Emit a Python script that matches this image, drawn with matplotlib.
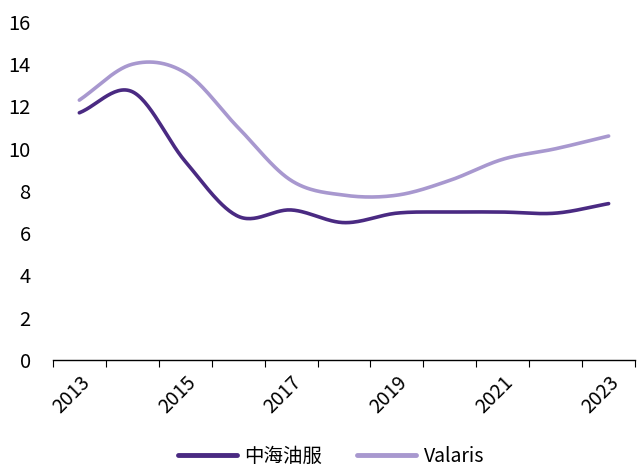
import numpy as np
import matplotlib
matplotlib.use("Agg")
import matplotlib.pyplot as plt

plt.rcParams['font.family'] = ['Noto Sans CJK SC', 'DejaVu Sans']

years = [2013, 2014, 2015, 2016, 2017, 2018, 2019, 2020, 2021, 2022, 2023]
cosl = [11.7, 12.7, 9.4, 6.8, 7.1, 6.5, 6.95, 7.0, 7.0, 6.95, 7.4]
valaris = [12.3, 14.0, 13.6, 11.0, 8.5, 7.8, 7.8, 8.5, 9.5, 10.0, 10.6]
series_names = ['中海油服', 'Valaris']
colors = ['#4a2a82', '#a898cf']


def smooth(y, n=30):
    # catmull-rom curve through the points, like excel's smoothed line
    y = np.asarray(y, float)
    p = np.concatenate([[2 * y[0] - y[1]], y, [2 * y[-1] - y[-2]]])
    xs, ys = [], []
    for i in range(len(y) - 1):
        t = np.linspace(0, 1, n, endpoint=False)
        p0, p1, p2, p3 = p[i], p[i + 1], p[i + 2], p[i + 3]
        yy = 0.5 * (2 * p1 + (-p0 + p2) * t + (2 * p0 - 5 * p1 + 4 * p2 - p3) * t**2
                    + (-p0 + 3 * p1 - 3 * p2 + p3) * t**3)
        xs.append(i + t)
        ys.append(yy)
    xs.append([len(y) - 1])
    ys.append([y[-1]])
    return np.concatenate(xs), np.concatenate(ys)


fig = plt.figure(figsize=(6.37, 4.68), dpi=100)
ax = fig.add_axes([0.083, 0.231, 0.914, 0.722])

for vals, name, c in zip([cosl, valaris], series_names, colors):
    sx, sy = smooth(vals)
    ax.plot(sx, sy, color=c, lw=2.6, label=name, solid_capstyle='round')

ax.set_xlim(-0.5, len(years) - 0.5)
ax.set_ylim(0, 16)
ax.set_yticks(np.arange(0, 17, 2))
ax.tick_params(axis='y', length=0, labelsize=14.5, pad=16)
for s in ['top', 'right', 'left']:
    ax.spines[s].set_visible(False)
ax.spines['bottom'].set_color('black')
ax.spines['bottom'].set_linewidth(1.0)

ax.set_xticks(np.arange(-0.5, len(years)), minor=False)
ax.set_xticklabels([])
ax.tick_params(axis='x', which='major', length=5, direction='out', width=0.8)
ax.set_xticks(np.arange(0, len(years), 2), minor=True)
ax.set_xticklabels([str(y) for y in years[::2]], minor=True, rotation=45,
                   ha='right', rotation_mode='anchor', fontsize=14)
ax.tick_params(axis='x', which='minor', length=0, pad=9)

leg = fig.legend(loc='lower center', bbox_to_anchor=(0.52, -0.035), ncol=2,
                 frameon=False, fontsize=14, handlelength=3.0, columnspacing=1.8,
                 handletextpad=0.4)
for l in leg.get_lines():
    l.set_linewidth(3.5)

fig.savefig('out.png', dpi=100)
